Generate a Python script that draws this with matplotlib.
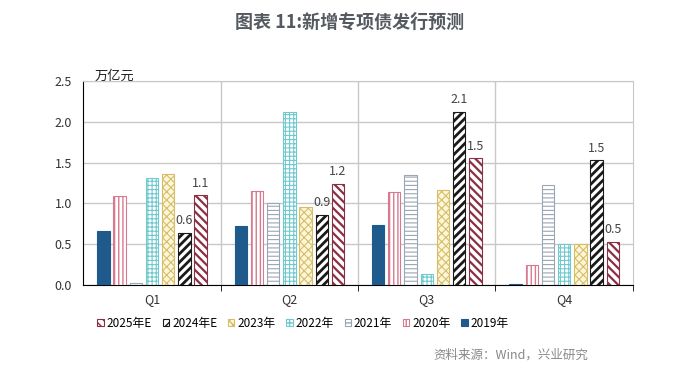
import numpy as np
import matplotlib
matplotlib.use('Agg')
import matplotlib.pyplot as plt

plt.rcParams['font.family'] = ['Noto Sans CJK SC', 'DejaVu Sans']

# 数据（万亿元）
quarters = ['Q1', 'Q2', 'Q3', 'Q4']
series_names = ['2019年', '2020年', '2021年', '2022年', '2023年', '2024年E', '2025年E']
v2019 = [0.66, 0.72, 0.74, 0.01]
v2020 = [1.09, 1.15, 1.14, 0.24]
v2021 = [0.03, 1.00, 1.35, 1.23]
v2022 = [1.31, 2.12, 0.14, 0.50]
v2023 = [1.36, 0.95, 1.16, 0.50]
v2024e = [0.64, 0.86, 2.12, 1.53]
v2025e = [1.10, 1.24, 1.55, 0.53]
labels_2024e = ['0.6', '0.9', '2.1', '1.5']
labels_2025e = ['1.1', '1.2', '1.5', '0.5']

values = [v2019, v2020, v2021, v2022, v2023, v2024e, v2025e]

# 样式
faces = ['#1f5a8c', 'white', 'white', 'white', '#fdf6d8', 'white', 'white']
edges = ['#1f5a8c', '#d77a8e', '#9aa6b4', '#6fc9cf', '#d6bd6a', '#1a1a1a', '#8b2f45']
hatches = [None, '||||', '----', '++++', 'xxxx', '////', '\\\\\\\\']
hatch_lw = [0.8, 1.0, 0.8, 0.8, 0.8, 2.0, 1.6]

fig = plt.figure(figsize=(7, 3.76), dpi=100)
ax = fig.add_axes([0.119, 0.242, 0.785, 0.543])

x = np.arange(len(quarters))
step = 0.118
width = 0.09

bars_all = []
for i, vals in enumerate(values):
    with plt.rc_context({'hatch.linewidth': hatch_lw[i]}):
        bars = ax.bar(x + (i - 3) * step, vals, width,
                      color=faces[i], edgecolor=edges[i], hatch=hatches[i],
                      linewidth=0.8, label=series_names[i], zorder=3)
    for b in bars:
        if hasattr(b, 'set_hatch_linewidth'):
            b.set_hatch_linewidth(hatch_lw[i])
    bars_all.append(bars)

# 数据标签
for bars, labs in [(bars_all[5], labels_2024e), (bars_all[6], labels_2025e)]:
    for b, t in zip(bars, labs):
        ax.annotate(t, (b.get_x() + b.get_width() / 2, b.get_height()),
                    xytext=(0, 4), textcoords='offset points',
                    ha='center', va='bottom', fontsize=9, color='#444444')

ax.set_xlim(-0.5, 3.5)
ax.set_ylim(0, 2.5)
ax.set_yticks(np.arange(0, 2.51, 0.5))
ax.set_yticklabels([f'{v:.1f}' for v in np.arange(0, 2.51, 0.5)], fontsize=9, color='#333333')
ax.set_xticks(x)
ax.set_xticklabels(quarters, fontsize=9, color='#333333')
ax.tick_params(axis='x', length=0, pad=6)
ax.tick_params(axis='y', length=0, pad=8)
ax.set_xticks([0.5, 1.5, 2.5, 3.5], minor=True)
ax.tick_params(axis='x', which='minor', length=4, color='black')

ax.yaxis.grid(True, color='#c8c8c8', linewidth=1, zorder=0)
for xv in [0.5, 1.5, 2.5]:
    ax.axvline(xv, color='#c8c8c8', linewidth=1, zorder=0)

ax.spines['left'].set_color('black')
ax.spines['bottom'].set_color('black')
ax.spines['top'].set_color('#c8c8c8')
ax.spines['right'].set_color('#c8c8c8')

ax.text(0.02, 0.99, '万亿元', transform=ax.transAxes, fontsize=9.5,
        color='#222222', ha='left', va='bottom')

handles, labels = ax.get_legend_handles_labels()
fig.legend(handles[::-1], labels[::-1], loc='center', bbox_to_anchor=(0.433, 0.14),
           ncol=7, frameon=False, fontsize=8.5, handlelength=0.55, handleheight=0.55,
           handletextpad=0.25, columnspacing=0.9)

fig.text(0.5, 0.94, '图表 11:新增专项债发行预测', ha='center', va='center',
         fontsize=13, fontweight='bold', color='#555a60')
fig.text(0.84, 0.055, '资料来源：Wind，兴业研究', ha='right', va='center',
         fontsize=9, color='#888888')

fig.savefig('out.png', dpi=100)
